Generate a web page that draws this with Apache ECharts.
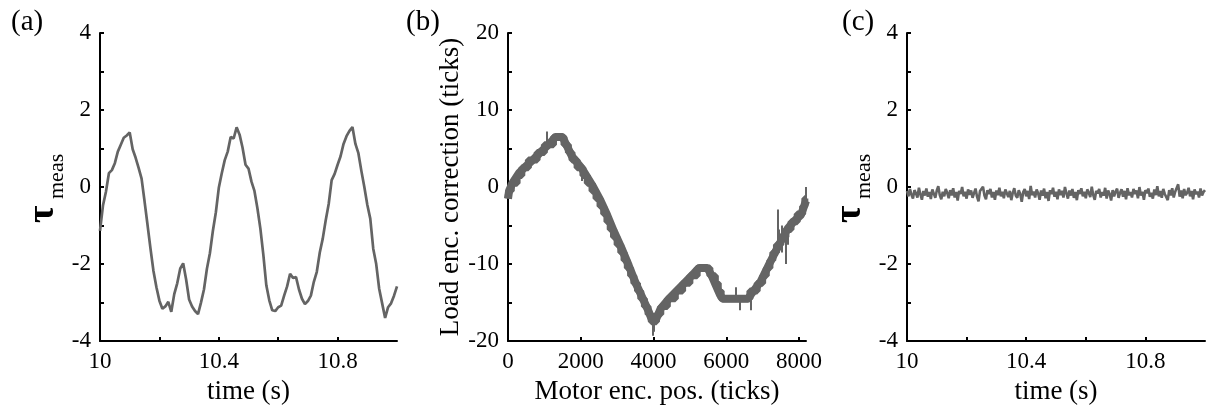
<!DOCTYPE html>
<html>
<head>
<meta charset="utf-8">
<script src="https://cdn.jsdelivr.net/npm/echarts@6/dist/echarts.min.js"></script>
<style>html,body{margin:0;padding:0;background:#fff;}#c{width:1210px;height:410px;}</style>
</head>
<body>
<div id="c"></div>
<script>
// ---------- Panel (a): measured torque, sampled every 0.01 s from 10 s ----------
const timeStartA = 10;
const timeStepA = 0.01;
const tauA = [
  -1.14,-0.48,-0.12,0.36,0.44,0.62,0.92,1.10,1.28,1.34,
  1.42,0.98,0.76,0.50,0.22,-0.37,-0.98,-1.60,-2.18,-2.60,
  -2.95,-3.16,-3.10,-2.98,-3.24,-2.78,-2.50,-2.12,-1.98,-2.40,
  -2.92,-3.10,-3.22,-3.30,-3.00,-2.66,-2.12,-1.72,-1.14,-0.66,
  -0.02,0.36,0.70,0.92,1.30,1.26,1.55,1.36,1.02,0.58,
  0.48,0.14,-0.10,-0.55,-1.08,-1.76,-2.55,-2.94,-3.20,-3.22,
  -3.12,-3.08,-2.82,-2.58,-2.25,-2.36,-2.34,-2.66,-2.90,-3.04,
  -2.96,-2.82,-2.46,-2.20,-1.70,-1.34,-0.86,-0.44,0.18,0.34,
  0.58,0.80,1.12,1.32,1.46,1.56,1.12,0.88,0.42,0.00,
  -0.46,-0.82,-1.60,-2.00,-2.64,-3.02,-3.40,-3.12,-3.02,-2.82,
  -2.58
];

// ---------- Panel (b): load encoder correction ----------
// band centre
const encX = [0,30,120,300,470,700,930,1160,1300,1500,1572,1757,2033,2309,2538,2722,2906,3137,3320,3504,
  3688,3872,3960,4060,4194,4424,4654,4884,5113,5250,5480,5600,5700,5830,5900,6600,6700,6953,7182,7320,
  7504,7688,7872,8056,8192];
const encY = [-1.5,-0.5,0.5,1.8,2.6,3.6,4.7,5.7,6.5,6.5,5.8,4.0,2.4,0.3,-1.7,-3.6,-5.7,-8.1,-10.2,-12.4,
  -14.3,-16.2,-17.3,-17.3,-15.8,-14.5,-13.4,-12.3,-11.2,-10.5,-10.5,-11.5,-12.6,-14.0,-14.5,-14.5,-13.8,-12.2,-10.0,-8.7,
  -7.0,-5.4,-4.4,-3.6,-1.8];
// quantised step levels (start position of each level)
const stepX = [0,20,90,250,380,560,800,1000,1250,1540,1660,1760,1900,2060,2180,2310,2420,2530,2630,2720,
  2810,2900,3000,3100,3190,3280,3370,3460,3560,3650,3750,3850,3940,4080,4200,4380,4600,4800,5000,5200,
  5550,5700,5780,5860,6650,6850,7000,7100,7200,7280,7380,7500,7640,7780,7950,8100,8160,8192];
const stepY = [-1.5,-0.5,0.5,1.5,2.5,3.5,4.5,5.5,6.5,5.5,4.5,3.5,2.5,1.5,0.5,-0.5,-1.5,-2.5,-3.5,-4.5,
  -5.5,-6.5,-7.5,-8.5,-9.5,-10.5,-11.5,-12.5,-13.5,-14.5,-15.5,-16.5,-17.5,-16.5,-15.5,-14.5,-13.5,-12.5,-11.5,-10.5,
  -11.5,-12.5,-13.5,-14.5,-13.5,-12.5,-11.5,-10.5,-9.5,-8.5,-7.5,-6.5,-5.5,-4.5,-3.5,-2.5,-1.5,-1.5];
// outlier spikes: position, from, to
const spikeX    = [1070, 2030, 3990, 4020, 6260, 6380, 6660, 7090, 7410, 7450, 7520, 7640, 7700, 8192];
const spikeFrom = [5.5, 2.5, -17, -17, -14.5, -14.5, -14.5, -11.5, -8, -8, -5, -6, -5.5, -2];
const spikeTo   = [7.2, 0.8, -19.3, -18.8, -13.0, -16.0, -16.0, -10.0, -2.9, -5.5, -8.5, -10.0, -7.5, 0];

// ---------- Panel (c): measured torque after correction, every 0.005 s ----------
const timeStartC = 10;
const timeStepC = 0.005;
const tauC = [
  -0.10,-0.24,-0.05,-0.20,-0.30,-0.08,-0.16,-0.27,-0.02,-0.19,
  -0.33,-0.10,-0.22,-0.04,-0.25,-0.13,-0.31,-0.06,-0.17,-0.28,
  -0.09,0.02,-0.21,-0.32,-0.12,-0.24,-0.05,-0.15,-0.29,-0.08,
  -0.22,-0.03,-0.27,-0.13,-0.35,-0.10,-0.18,0.00,-0.24,-0.12,
  -0.30,-0.06,-0.20,-0.09,-0.28,-0.16,-0.04,-0.25,-0.37,-0.10,
  -0.15,0.01,-0.22,-0.32,-0.08,-0.18,-0.05,-0.27,-0.13,-0.33,
  -0.09,-0.21,-0.02,-0.24,-0.12,-0.29,-0.06,-0.16,-0.26,-0.10,
  -0.34,-0.15,-0.03,-0.22,-0.28,-0.08,-0.18,-0.38,-0.13,-0.05,
  -0.24,-0.10,-0.31,0.03,-0.21,-0.12,-0.27,-0.06,-0.16,-0.33,
  -0.09,-0.22,-0.04,-0.29,-0.13,-0.36,-0.08,-0.18,-0.02,-0.25,
  -0.12,-0.32,-0.06,-0.21,-0.10,-0.27,0.00,-0.16,-0.30,-0.09,
  -0.22,-0.05,-0.28,-0.13,-0.34,-0.08,-0.18,-0.03,-0.24,-0.12,
  -0.29,-0.06,-0.15,-0.26,0.01,-0.21,-0.33,-0.10,-0.16,-0.05,
  -0.27,-0.13,-0.22,-0.02,-0.30,-0.09,-0.18,-0.35,-0.08,-0.24,
  -0.12,-0.04,-0.28,-0.15,-0.06,-0.25,-0.10,-0.32,-0.03,-0.21,
  -0.13,-0.27,-0.05,-0.18,-0.09,-0.29,0.00,-0.22,-0.12,-0.33,
  -0.08,-0.16,-0.04,-0.25,-0.15,-0.30,-0.06,-0.21,0.02,-0.24,
  -0.10,-0.28,-0.05,-0.18,-0.13,-0.34,-0.08,-0.22,-0.03,-0.27,
  -0.12,-0.16,0.07,-0.25,-0.09,-0.29,-0.05,-0.21,-0.15,-0.02,
  -0.24,-0.10,-0.32,-0.06,-0.18,-0.12,-0.27,-0.04,-0.22,-0.13,
  -0.08
];

const panelLabels = ['(a)', '(b)', '(c)'];
const xNames = ['time (s)', 'Motor enc. pos. (ticks)', 'time (s)'];
const yNameB = 'Load enc. correction (ticks)';
const tauSymbol = 'τ';
const tauSub = 'meas';

// ---------- build ----------
const FONT = "'Liberation Serif','Times New Roman',serif";
const FONTNAME = 'Liberation Serif';
const LINE = '#646464';
const dataA = tauA.map((v, i) => [timeStartA + i * timeStepA, v]);
const dataB = encX.map((x, i) => [x, encY[i]]);
const dataBStep = stepX.map((x, i) => [x, stepY[i]]);
const dataC = tauC.map((v, i) => [timeStartC + i * timeStepC, v]);
const spikes = spikeX.map((x, i) => ({coords: [[x, spikeFrom[i]], [x, spikeTo[i]]]}));

const axisCommon = {
  axisLine: {show: true, onZero: false, lineStyle: {color: '#000', width: 2}},
  axisTick: {show: true, inside: true, length: 4, lineStyle: {color: '#000', width: 2}},
  splitLine: {show: false},
  axisLabel: {color: '#000', fontFamily: FONT, fontSize: 23, margin: 9},
  nameTextStyle: {color: '#000', fontFamily: FONT, fontSize: 27},
};

function timeAxis(idx) {
  return Object.assign({}, axisCommon, {
    type: 'value', gridIndex: idx, min: 10, max: 11, interval: 0.2,
    name: xNames[idx], nameLocation: 'middle', nameGap: 32,
    axisLabel: Object.assign({}, axisCommon.axisLabel, {
      showMaxLabel: false,
      formatter: function (v) {
        const k = Math.round((v - 10) / 0.2);
        return (k % 2 === 0 && k < 5) ? String(Number(v.toFixed(1))) : '';
      }
    })
  });
}
function tauAxis(idx) {
  return Object.assign({}, axisCommon, {
    type: 'value', gridIndex: idx, min: -4, max: 4, interval: 1,
    axisLabel: Object.assign({}, axisCommon.axisLabel, {
      formatter: v => (Math.round(v) % 2 === 0 ? String(v) : '')
    })
  });
}
// rotated y-axis title "τ_meas" for a grid whose left edge is at gridLeft
function tauTitle(gridLeft) {
  return [
    {type: 'text', x: gridLeft - 57, y: 223, rotation: Math.PI / 2, silent: true,
     style: {text: tauSymbol, font: 'bold 38px ' + FONTNAME, fill: '#000',
             textAlign: 'left', textVerticalAlign: 'middle', align: 'left', verticalAlign: 'middle'}},
    {type: 'text', x: gridLeft - 43, y: 199, rotation: Math.PI / 2, silent: true,
     style: {text: tauSub, font: '22px ' + FONTNAME, fill: '#000',
             textAlign: 'left', textVerticalAlign: 'middle', align: 'left', verticalAlign: 'middle'}}
  ];
}

const gridLefts = [100, 508, 907];
const option = {
  animation: false,
  backgroundColor: '#fff',
  title: [
    {text: panelLabels[0], left: 6, top: 3, textStyle: {fontFamily: FONT, fontSize: 29, fontWeight: 'normal', color: '#000'}},
    {text: panelLabels[1], left: 401, top: 3, textStyle: {fontFamily: FONT, fontSize: 29, fontWeight: 'normal', color: '#000'}},
    {text: panelLabels[2], left: 837, top: 3, textStyle: {fontFamily: FONT, fontSize: 29, fontWeight: 'normal', color: '#000'}}
  ],
  graphic: tauTitle(gridLefts[0]).concat(tauTitle(gridLefts[2])),
  grid: [
    {left: gridLefts[0], top: 33, width: 297, height: 310},
    {left: gridLefts[1], top: 33, width: 298, height: 310},
    {left: gridLefts[2], top: 33, width: 298, height: 310}
  ],
  xAxis: [
    timeAxis(0),
    Object.assign({}, axisCommon, {
      type: 'value', gridIndex: 1, min: 0, max: 8192, interval: 2000,
      name: xNames[1], nameLocation: 'middle', nameGap: 32,
      axisLabel: Object.assign({}, axisCommon.axisLabel, {
        showMaxLabel: false,
        formatter: v => (v % 2000 === 0 ? String(v) : '')
      })
    }),
    timeAxis(2)
  ],
  yAxis: [
    tauAxis(0),
    Object.assign({}, axisCommon, {
      type: 'value', gridIndex: 1, min: -20, max: 20, interval: 5,
      name: yNameB, nameLocation: 'middle', nameGap: 44, nameRotate: 90,
      axisLabel: Object.assign({}, axisCommon.axisLabel, {
        formatter: v => (v % 10 === 0 ? String(v) : '')
      })
    }),
    tauAxis(2)
  ],
  series: [
    {type: 'line', xAxisIndex: 0, yAxisIndex: 0, data: dataA, showSymbol: false, smooth: false,
     lineStyle: {color: LINE, width: 2.7}, z: 3},
    {type: 'line', xAxisIndex: 1, yAxisIndex: 1, data: dataB, showSymbol: false,
     lineStyle: {color: LINE, width: 8}, z: 3},
    {type: 'line', xAxisIndex: 1, yAxisIndex: 1, data: dataBStep, showSymbol: false, step: 'end',
     lineStyle: {color: LINE, width: 7}, z: 3},
    {type: 'lines', coordinateSystem: 'cartesian2d', xAxisIndex: 1, yAxisIndex: 1, data: spikes,
     lineStyle: {color: LINE, width: 2, opacity: 1}, z: 4},
    {type: 'line', xAxisIndex: 2, yAxisIndex: 2, data: dataC, showSymbol: false,
     lineStyle: {color: LINE, width: 2.6}, z: 3}
  ]
};
const chart = echarts.init(document.getElementById('c'), null, {renderer: 'canvas'});
chart.setOption(option);
</script>
</body>
</html>
